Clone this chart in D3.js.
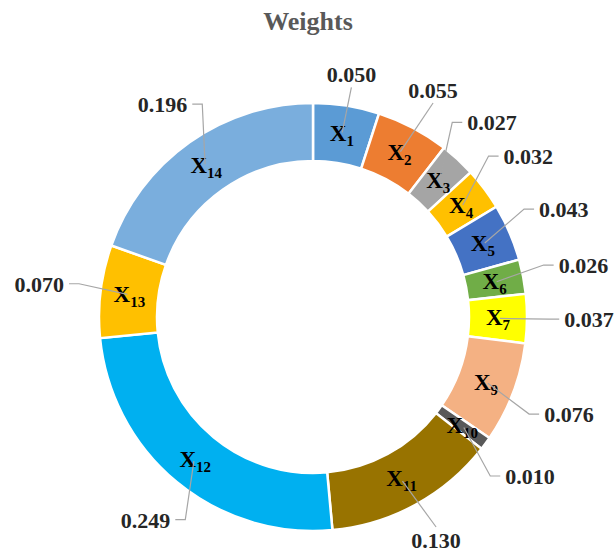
<!DOCTYPE html>
<html lang="en">
<head>
  <meta charset="UTF-8" />
  <title>Weights</title>
  <script src="https://d3js.org/d3.v7.min.js"></script>
  <style>
    body { margin: 0; background: #fff; }
    svg text { font-family: "Liberation Serif", "Times New Roman", serif; font-weight: bold; }
    .title { font-size: 26px; fill: #595959; }
    .seg-label { font-size: 23px; fill: #000; }
    .val-label { font-size: 22px; fill: #262626; }
    .leader { fill: none; stroke: #a6a6a6; stroke-width: 1.2px; }
  </style>
</head>
<body>
  <div id="chart"></div>
  <script>
    // chart data
    const names = ["1", "2", "3", "4", "5", "6", "7", "9", "10", "11", "12", "13", "14"];
    const weights = [0.050, 0.055, 0.027, 0.032, 0.043, 0.026, 0.037, 0.076, 0.010, 0.130, 0.249, 0.070, 0.196];
    const colors = ["#5b9bd5", "#ed7d31", "#a5a5a5", "#ffc000", "#4472c4", "#70ad47", "#ffff00",
                    "#f4b183", "#595959", "#987300", "#00b0f0", "#ffc000", "#7aaedd"];

    const width = 616, height = 553;
    const cx = 313, cy = 317;
    const rOuter = 214, rInner = 156;

    const svg = d3.select("#chart").append("svg")
      .attr("width", width)
      .attr("height", height);

    svg.append("text")
      .attr("class", "title")
      .attr("x", 308)
      .attr("y", 30)
      .attr("text-anchor", "middle")
      .text("Weights");

    const items = names.map((n, i) => ({ name: n, value: weights[i], color: colors[i] }));

    const pie = d3.pie().value(d => d.value).sort(null);
    const arcs = pie(items);

    const arc = d3.arc().innerRadius(rInner).outerRadius(rOuter);
    const midArc = d3.arc().innerRadius(185).outerRadius(185);

    const g = svg.append("g").attr("transform", `translate(${cx},${cy})`);

    g.selectAll("path.slice")
      .data(arcs)
      .enter().append("path")
      .attr("class", "slice")
      .attr("d", arc)
      .attr("fill", d => d.data.color)
      .attr("stroke", "#fff")
      .attr("stroke-width", 2.5);

    // segment labels X_i
    const segLabel = g.selectAll("text.seg-label")
      .data(arcs)
      .enter().append("text")
      .attr("class", "seg-label")
      .attr("text-anchor", "middle")
      .attr("x", d => midArc.centroid(d)[0])
      .attr("y", d => midArc.centroid(d)[1] + 7);
    segLabel.append("tspan").text("X");
    segLabel.append("tspan")
      .attr("dy", 5)
      .style("font-size", "15px")
      .text(d => d.data.name);

    // value labels with leader lines
    const midAngle = d => (d.startAngle + d.endAngle) / 2;
    const polar = (r, a) => [r * Math.sin(a), -r * Math.cos(a)];

    const valLabel = g.selectAll("text.val-label")
      .data(arcs)
      .enter().append("text")
      .attr("class", "val-label")
      .attr("text-anchor", "middle")
      .each(function (d) {
        const a = midAngle(d);
        const r = 240 + 36 * Math.abs(Math.sin(a));
        const p = polar(r, a);
        d.lx = p[0];
        d.ly = Math.min(p[1], height - 13 - cy);  // keep inside the frame
      })
      .attr("x", d => d.lx)
      .attr("y", d => d.ly + 8)
      .text(d => d3.format(".3f")(d.data.value));

    const leaders = [];
    valLabel.each(function (d) {
      const w = this.getComputedTextLength();
      const a = midAngle(d);
      const s = Math.sin(a);
      const end = polar(187, a);
      let pts;
      if (s > 0.5) {
        const x0 = d.lx - w / 2 - 5;
        pts = [[x0, d.ly], [x0 - 10, d.ly], end];
      } else if (s < -0.5) {
        const x0 = d.lx + w / 2 + 5;
        pts = [[x0, d.ly], [x0 + 10, d.ly], end];
      } else if (Math.cos(a) > 0) {
        pts = [[d.lx, d.ly + 13], end];
      } else {
        pts = [[d.lx, d.ly - 13], end];
      }
      leaders.push(pts);
    });

    g.selectAll("path.leader")
      .data(leaders)
      .enter().append("path")
      .attr("class", "leader")
      .attr("d", d3.line());
  </script>
</body>
</html>
